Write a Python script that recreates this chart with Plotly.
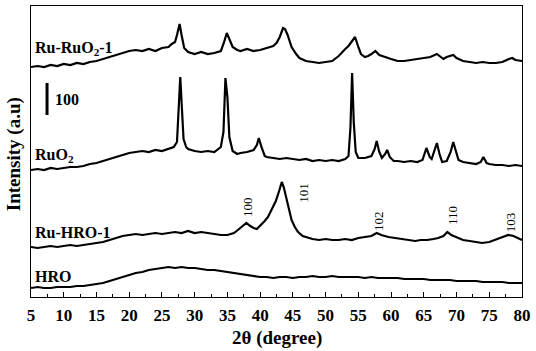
import plotly.graph_objects as go

# XRD patterns, intensity in a.u. (stacked, offsets already included)
ru_ruo2_x = [5, 6, 7, 8, 9, 10, 11, 12, 13, 14, 15, 16, 17, 18, 19, 20, 21, 22, 23, 24, 25, 26, 26.5, 27, 27.3, 27.7,
             28.0, 28.4, 29, 30, 31, 32, 33, 34, 34.5, 34.9, 35.3, 35.8, 36.5, 37, 38, 39, 40, 41, 42, 42.5, 43, 43.5,
             43.8, 44.2, 44.8, 45.5, 46, 47, 48, 49, 50, 51, 52, 52.5, 53, 53.5, 54, 54.5, 55, 55.4, 56, 56.5, 57,
             57.6, 58.2, 59, 60, 61, 62, 63, 64, 65, 66, 67, 67.5, 68, 68.5, 69, 69.5, 70, 71, 72, 73, 74, 75, 76, 77,
             78, 78.5, 79, 80]
ru_ruo2_y = [230, 231, 230, 232, 231, 233, 232, 234, 233, 235, 236, 238, 240, 242, 244, 246, 247, 246, 248, 246, 249,
             250, 253, 255, 262, 273, 262, 249, 245, 243, 245, 243, 244, 246, 255, 264, 258, 250, 247, 246, 248, 246,
             247, 249, 251, 254, 260, 269, 268, 262, 250, 243, 239, 236, 235, 234, 235, 236, 241, 245, 248, 251, 255,
             260, 250, 243, 240, 241, 243, 246, 242, 240, 238, 236, 236, 237, 238, 239, 240, 243, 240, 238, 240, 241,
             242, 239, 236, 235, 234, 235, 234, 234, 235, 238, 239, 237, 236]

ruo2_x = [5, 6, 7, 8, 9, 10, 11, 12, 13, 14, 15, 16, 17, 18, 19, 20, 21, 22, 23, 24, 25, 26, 26.8, 27.3, 27.6, 27.8,
          28.0, 28.3, 28.7, 29, 30, 31, 32, 33, 34, 34.4, 34.7, 35.0, 35.3, 35.8, 36.5, 37, 38, 39, 39.5, 39.8, 40.2,
          40.7, 41, 42, 43, 44, 45, 46, 47, 48, 49, 50, 51, 52, 53, 53.5, 53.8, 54.05, 54.3, 54.6, 55, 56, 57, 57.5,
          57.8, 58.2, 58.6, 59.1, 59.4, 59.8, 60.4, 61, 62, 63, 64, 64.8, 65.4, 65.9, 66.2, 66.6, 67, 67.4, 67.8,
          68.5, 69.1, 69.5, 69.9, 70.3, 71, 72, 73, 73.7, 74.1, 74.6, 75, 76, 77, 78, 79, 80]
ruo2_y = [127, 128, 127, 129, 128, 129, 130, 130, 131, 133, 134, 136, 138, 140, 142, 144, 145, 146, 145, 147, 146, 148,
          150, 155, 190, 220, 195, 158, 150, 148, 146, 145, 146, 145, 150, 165, 219, 200, 160, 146, 143, 144, 145,
          147, 152, 159, 150, 141, 140, 139, 138, 139, 138, 137, 138, 136, 137, 136, 137, 136, 138, 141, 170, 224,
          175, 145, 139, 139, 141, 148, 156, 145, 139, 143, 147, 140, 136, 136, 135, 136, 135, 137, 149, 140, 138,
          145, 154, 143, 135, 136, 145, 155, 145, 137, 135, 134, 133, 135, 140, 134, 133, 132, 132, 131, 132, 131]

ru_hro_x = [5, 6, 7, 8, 9, 10, 11, 12, 13, 14, 15, 16, 17, 18, 19, 20, 21, 22, 23, 24, 25, 26, 27, 28, 29, 30, 31, 32,
            33, 34, 35, 36, 36.6, 37.3, 37.9, 38.5, 39, 39.5, 40, 40.7, 41.2, 41.8, 42.4, 42.9, 43.3, 43.6, 44.1,
            44.5, 44.8, 45.3, 45.8, 46.5, 47.3, 48, 49, 50, 51, 52, 53, 54, 55, 56, 57, 57.8, 58.5, 59.6, 60.5, 61.5,
            62.5, 63.7, 64.5, 65.5, 66.5, 67.2, 68, 68.6, 69.2, 70.3, 71, 72, 73, 73.9, 75, 75.9, 77, 77.9, 78.7,
            79.4, 80]
ru_hro_y = [50, 49, 50, 51, 50, 51, 52, 51, 52, 53, 54, 55, 57, 59, 61, 62, 63, 62, 63, 64, 63, 64, 65, 64, 66, 64,
            65, 64, 63, 62, 62, 64, 67, 71, 74, 71, 69, 68, 71, 76, 80, 88, 96, 106, 115, 110, 97, 86, 77, 70, 65, 61,
            59, 58, 57, 58, 57, 57, 58, 57, 59, 60, 61, 64, 62, 60, 59, 58, 57, 56, 57, 57, 58, 59, 61, 65, 62, 59,
            57, 56, 55, 54, 55, 57, 60, 62, 61, 59, 57]

hro_x = list(range(5, 81))
hro_y = [9, 10, 9, 9, 10, 10, 10, 11, 11, 12, 13, 14, 16, 18, 20, 22, 24, 25, 27, 28, 29, 30, 29, 30, 29, 29, 28, 27,
         27, 26, 25, 24, 23, 22, 21, 20, 20, 19, 20, 20, 19, 20, 20, 21, 20, 20, 21, 20, 20, 20, 20, 19, 20, 19, 19,
         19, 19, 18, 18, 18, 18, 17, 17, 17, 17, 16, 16, 16, 16, 15, 15, 15, 15, 14, 14, 14]

sample_names = ["Ru-RuO<sub>2</sub>-1", "RuO<sub>2</sub>", "Ru-HRO-1", "HRO"]
name_y = [249, 142, 65, 21]

hkl_labels = ["100", "101", "102", "110", "103"]
hkl_x = [38.0, 46.5, 58.0, 69.3, 78.2]
hkl_y = [90, 104, 76, 82, 75]

serif = "Liberation Serif, Times New Roman, Times, serif"

fig = go.Figure()
for xs, ys in [(ru_ruo2_x, ru_ruo2_y), (ruo2_x, ruo2_y), (ru_hro_x, ru_hro_y), (hro_x, hro_y)]:
    fig.add_trace(go.Scatter(x=xs, y=ys, mode="lines", line=dict(color="black", width=2.2),
                             showlegend=False, hoverinfo="skip"))

for name, yv in zip(sample_names, name_y):
    fig.add_annotation(x=5.3, y=yv, text="<b>" + name + "</b>", showarrow=False, xanchor="left",
                       yanchor="middle", font=dict(family=serif, size=16, color="black"))

for lab, xv, yv in zip(hkl_labels, hkl_x, hkl_y):
    fig.add_annotation(x=xv, y=yv, text=lab, showarrow=False, textangle=-90,
                       font=dict(family=serif, size=13, color="black"))

# 100 a.u. scale bar
fig.add_shape(type="line", x0=7.45, x1=7.45, y0=182, y1=214, line=dict(color="black", width=3))
fig.add_annotation(x=8.3, y=198, text="<b>100</b>", showarrow=False, xanchor="left",
                   font=dict(family=serif, size=16, color="black"))

# axis titles
fig.add_annotation(xref="paper", yref="paper", x=0.5, y=-0.095, yanchor="top", showarrow=False,
                   text="<b>2θ (degree)</b>", font=dict(family=serif, size=19, color="black"))
fig.add_annotation(xref="paper", yref="paper", x=-0.033, y=0.49, xanchor="center", showarrow=False,
                   textangle=-90, text="<b>Intensity (a.u)</b>", font=dict(family=serif, size=19, color="black"))

fig.update_xaxes(range=[5, 80], dtick=5, tick0=5, ticks="inside", ticklen=5, tickcolor="black",
                 minor=dict(dtick=2.5, ticks="inside", ticklen=3, tickcolor="black"),
                 showline=True, linecolor="black", linewidth=1, mirror=True, showgrid=False, zeroline=False,
                 automargin=False, ticklabelstandoff=3,
                 tickfont=dict(family=serif, size=17, color="black", weight="bold"))
fig.update_yaxes(range=[0, 291], showticklabels=False, ticks="", showline=True, linecolor="black", linewidth=1,
                 mirror=True, showgrid=False, zeroline=False, automargin=False)
fig.update_layout(width=536, height=351, plot_bgcolor="white", paper_bgcolor="white",
                  margin=dict(l=31, r=14, t=6, b=54))

fig.write_html("out.html", config={"displayModeBar": False},
               post_script="document.body.style.margin='0';")
